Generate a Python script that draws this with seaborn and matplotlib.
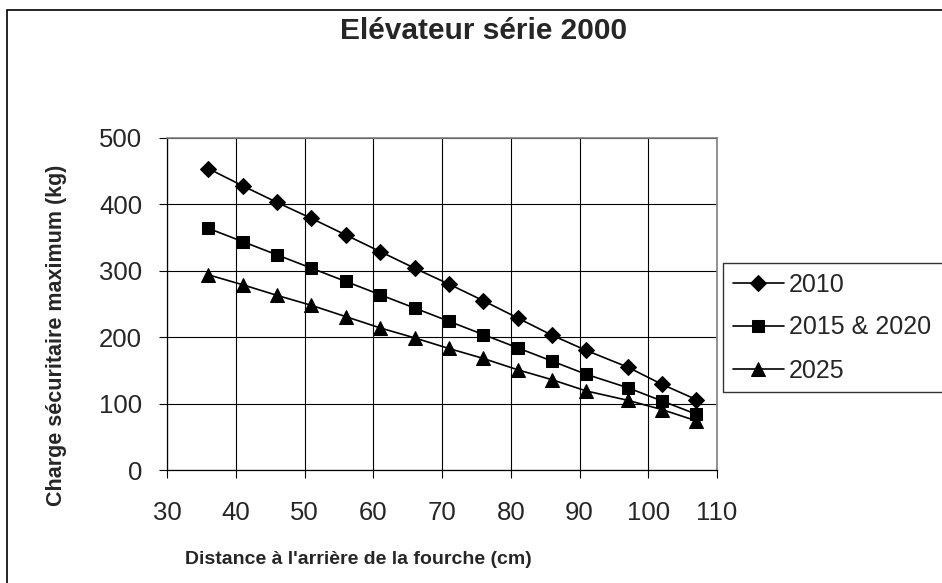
import numpy as np
import pandas as pd
import matplotlib
matplotlib.use("Agg")
import matplotlib.pyplot as plt
import matplotlib.patches as mpatches
import seaborn as sns

# %% Données
distance = [36, 41, 46, 51, 56, 61, 66, 71, 76, 81, 86, 91, 97, 102, 107]
charge_2010 = [454, 428, 403, 379, 354, 329, 304, 280, 255, 229, 203, 180, 155, 129, 106]
charge_2015_2020 = [364, 344, 324, 304, 284, 264, 244, 224, 204, 184, 164, 144, 124, 104, 84]
charge_2025 = [294, 279, 263, 248, 231, 214, 199, 183, 168, 151, 136, 119, 105, 91, 74]
series = ["2010", "2015 & 2020", "2025"]
x_ticks = [30, 40, 50, 60, 70, 80, 90, 100, 110]
y_ticks = [0, 100, 200, 300, 400, 500]

df = pd.DataFrame({
    "distance": distance * 3,
    "charge": charge_2010 + charge_2015_2020 + charge_2025,
    "serie": [s for s in series for _ in distance],
})

# %% Style
sns.set_style("white")
plt.rcParams["font.family"] = ["Liberation Sans", "DejaVu Sans"]

fig = plt.figure(figsize=(9.42, 5.83), dpi=100)
ax = fig.add_axes([167 / 942, 113 / 583, 550 / 942, 332 / 583])

marqueurs = {"2010": "D", "2015 & 2020": "s", "2025": "^"}
tailles = {"D": 8.5, "s": 8, "^": 9.5}

sns.lineplot(
    data=df, x="distance", y="charge", hue="serie", style="serie",
    palette=["black"] * 3, markers=marqueurs,
    dashes=False, markersize=8.5, linewidth=1.2, markeredgecolor="black",
    ax=ax, legend=True,
)
for ligne in ax.lines:
    m = ligne.get_marker()
    if m in tailles:
        ligne.set_markersize(tailles[m])

ax.set_xlim(30, 110)
ax.set_ylim(0, 500)
ax.set_xticks(x_ticks)
ax.set_yticks(y_ticks)
ax.grid(True, color="black", linewidth=0.8)
ax.set_axisbelow(True)
ax.tick_params(axis="both", labelsize=18.5, length=6, width=0.8, color="black",
               direction="out", bottom=True, left=True)
ax.tick_params(axis="x", pad=16)
ax.tick_params(axis="y", pad=12)
for side in ["left", "bottom"]:
    ax.spines[side].set_color("black")
    ax.spines[side].set_linewidth(0.9)
for side in ["top", "right"]:
    ax.spines[side].set_color("#808080")
    ax.spines[side].set_linewidth(1.2)

ax.set_xlabel("")
ax.set_ylabel("")
fig.text(358 / 942, 1 - 560 / 583, "Distance à l'arrière de la fourche (cm)",
         ha="center", va="center", fontsize=14, fontweight="bold")
fig.text(57 / 942, 1 - 335 / 583, "Charge sécuritaire maximum (kg)",
         ha="center", va="center", rotation=90, fontsize=15.5, fontweight="bold")
fig.text(484 / 942, 1 - 31 / 583, "Elévateur série 2000",
         ha="center", va="center", fontsize=21.5, fontweight="bold")

# Légende à droite, son cadre dépasse le bord droit comme dans l'original
leg = ax.legend(loc="upper left", bbox_to_anchor=(723 / 942, 0, 0.3, 1 - 263 / 583),
                bbox_transform=fig.transFigure, mode="expand", borderaxespad=0,
                frameon=True, fancybox=False, edgecolor="black", fontsize=18,
                handlelength=2.05, handletextpad=0.2, labelspacing=0.76,
                borderpad=0.38)
leg.get_frame().set_linewidth(1.0)

# Cadre extérieur de la figure
fig.patches.append(mpatches.Rectangle((7 / 942, -0.2), 1.5, 1.2 - 10 / 583,
                                      transform=fig.transFigure, fill=False,
                                      edgecolor="black", linewidth=1.2))

plt.savefig("out.png", dpi=100)
